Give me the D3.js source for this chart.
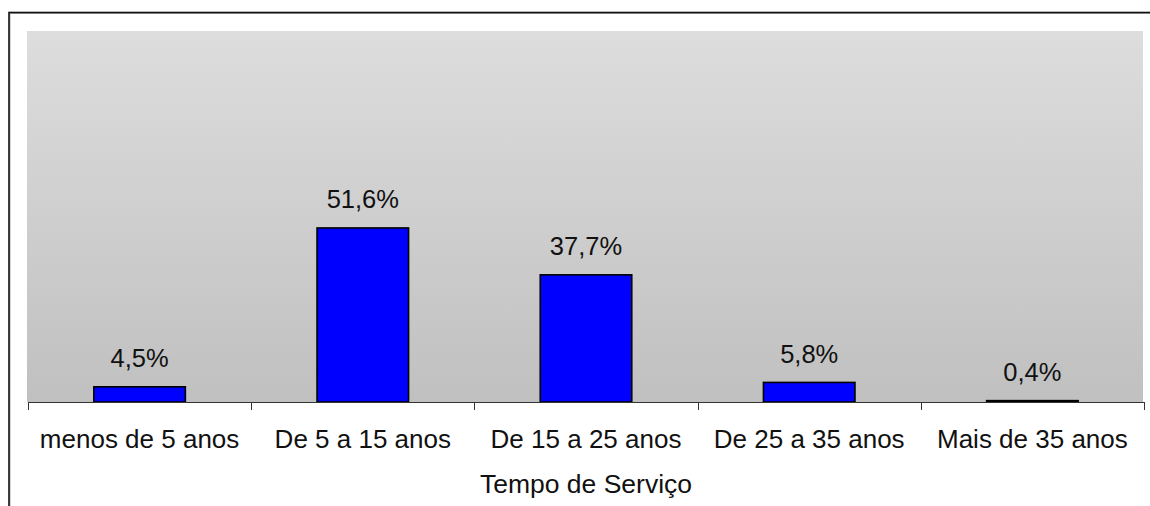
<!DOCTYPE html>
<html><head><meta charset="utf-8">
<script src="https://cdn.jsdelivr.net/npm/d3@7"></script>
<style>
html,body{margin:0;padding:0;background:#fff;}
svg{display:block;}
text{font-family:"Liberation Sans",Arial,sans-serif;fill:#111;}
</style></head>
<body>
<svg id="chart" width="1150" height="506"></svg>
<script>
const categories = ["menos de 5 anos","De 5 a 15 anos","De 15 a 25 anos","De 25 a 35 anos","Mais de 35 anos"];
const values = [4.5, 51.6, 37.7, 5.8, 0.4];
const valueLabels = ["4,5%","51,6%","37,7%","5,8%","0,4%"];
const axisTitle = "Tempo de Serviço";

const svg = d3.select("#chart");
const plot = {left:28, right:1144, top:31, bottom:402};

// outer chart border
svg.append("rect").attr("x",9).attr("y",12.5).attr("width",1160).attr("height",520)
  .attr("fill","none").attr("stroke","#aaa").attr("stroke-width",1).attr("transform","translate(1,1)");
svg.append("rect").attr("x",9).attr("y",12.5).attr("width",1160).attr("height",520)
  .attr("fill","none").attr("stroke","#111").attr("stroke-width",1.6);

// gradient background
const defs = svg.append("defs");
const g = defs.append("linearGradient").attr("id","bg").attr("x1",0).attr("y1",0).attr("x2",0).attr("y2",1);
g.append("stop").attr("offset","0%").attr("stop-color","#dddddd");
g.append("stop").attr("offset","100%").attr("stop-color","#c0c0c0");
svg.append("rect").attr("x",27).attr("y",plot.top).attr("width",1143-27).attr("height",plot.bottom-plot.top)
  .attr("fill","url(#bg)");

const x = d3.scaleBand().domain(categories).range([plot.left, plot.right]).padding(0);
const y = d3.scaleLinear().domain([0,110]).range([plot.bottom, plot.top]);
const barW = x.bandwidth()*0.41;

svg.selectAll("rect.bar").data(values).enter().append("rect").attr("class","bar")
  .attr("x",(d,i)=>x(categories[i])+x.bandwidth()/2-barW/2)
  .attr("y",d=>y(d))
  .attr("width",barW)
  .attr("height",d=>plot.bottom-y(d))
  .attr("fill","#0000ff").attr("stroke","#000").attr("stroke-width",1.6);

// axis line and ticks
svg.append("line").attr("x1",plot.left).attr("x2",plot.right).attr("y1",plot.bottom+0.5).attr("y2",plot.bottom+0.5)
  .attr("stroke","#333").attr("stroke-width",1);
const tickPos = categories.map(c=>x(c)).concat([plot.right]);
svg.selectAll("line.tick").data(tickPos).enter().append("line").attr("class","tick")
  .attr("x1",d=>Math.round(d)+0.5).attr("x2",d=>Math.round(d)+0.5)
  .attr("y1",plot.bottom).attr("y2",plot.bottom+8).attr("stroke","#333").attr("stroke-width",1);

// value labels
svg.selectAll("text.val").data(values).enter().append("text").attr("class","val")
  .attr("x",(d,i)=>x(categories[i])+x.bandwidth()/2)
  .attr("y",d=>y(d)-19.5)
  .attr("text-anchor","middle").attr("font-size","25.5px")
  .text((d,i)=>valueLabels[i]);

// category labels
svg.selectAll("text.cat").data(categories).enter().append("text").attr("class","cat")
  .attr("x",d=>x(d)+x.bandwidth()/2).attr("y",448)
  .attr("text-anchor","middle").attr("font-size","26px")
  .text(d=>d);

// axis title
svg.append("text").attr("x",(plot.left+plot.right)/2).attr("y",493)
  .attr("text-anchor","middle").attr("font-size","26.5px").text(axisTitle);
</script>
</body></html>
